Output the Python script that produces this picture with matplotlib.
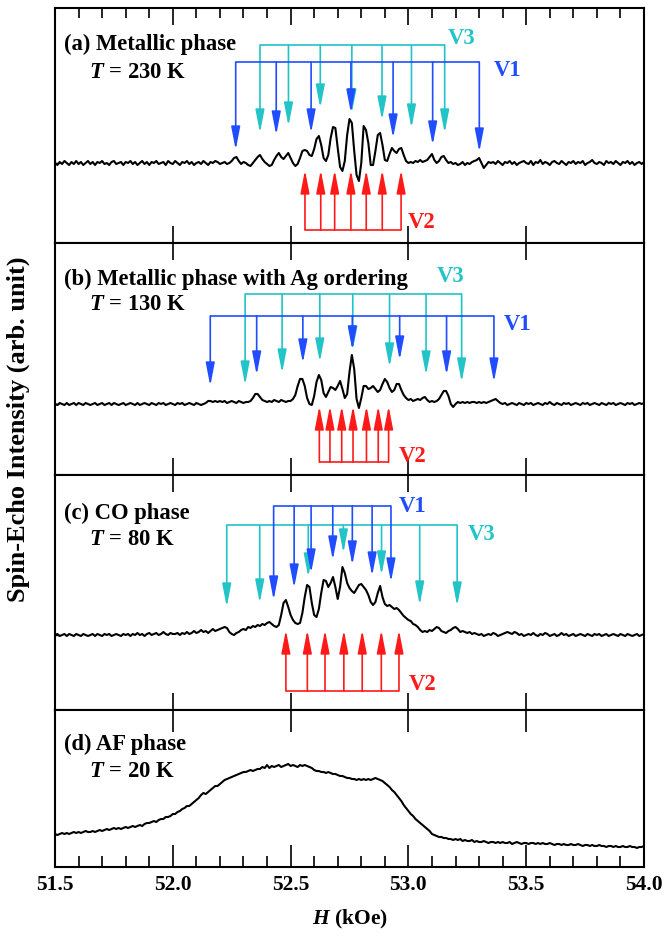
import numpy as np
import matplotlib
matplotlib.use("Agg")
import matplotlib.pyplot as plt
from matplotlib.ticker import MultipleLocator

plt.rcParams['font.family'] = 'Liberation Serif'
plt.rcParams['font.weight'] = 'bold'
plt.rcParams['axes.labelweight'] = 'bold'
plt.rcParams['mathtext.fontset'] = 'custom'
plt.rcParams['mathtext.it'] = 'Liberation Serif:italic:bold'
plt.rcParams['mathtext.rm'] = 'Liberation Serif:bold'

BLUE = '#1f4dff'
CYAN = '#22c4c8'
RED = '#ff1a1a'
FS = 16.3

# field grid (kOe), 0.01 step
H = np.round(np.arange(51.50, 54.001, 0.01), 2)

# (a) T = 230 K
int_a = [
    0, -2, 1, -1, 2, 0, -2, 1, -1, 2,
    -1, 1, -2, 0, 2, -1, 1, -2, 1, 0,
    2, -1, 0, -2, 1, 2, -1, 0, 1, -2,
    1, 0, 2, -1, 1, -2, 0, 2, -1, 1,
    -2, 1, 0, 2, -1, 0, 1, -2, 2, 0,
    -1, 2, 0, -2, 1, 0, 2, -1, 1, -2,
    0, 1, -1, 2, 0, -2, 1, 0, 2, 1,
    -1,
    0, 1, -1, 0, 2, 5, 6, 2, -1, 1,
    0, -2, -3, 0, 3, 6, 8, 4, 1, -1,
    -3, -2, 3, 7, 10, 6, 4, 7, 10, 5,
    0, -3, -1, 5, 12, 13, 12, 8, 7, 14,
    24, 27, 18, 5, 2, 8, 25, 36, 35, 15,
    -4, -8, 2, 28, 44, 40, 12, -12, -18, 0,
    37, 33, 20, -2, -2, 12, 28, 30, 18, 3,
    2, 9, 15, 12, 10, 14, 15, 8, 2, 0,
    1, 0, 2, 1, 3, 1, 2, 3, 6, 9,
    3, 0, 2, 6, 7, 3, 0, 1, -1, 0,
    -2, -1, 1, -2, 0, -1, 1, 2, 3, 5,
    0, -5, -2, 1, 0,
    1, -1, 2, 0,
    -2, 1, 0, 2, -1, 1, -2, 0, 1, 2,
    0, -1, 2, -2, 1, 0, 3, -1, 1, 0,
    -2, 1, 2, 0, -1, 2, 0, -2, 1, 0,
    2, -1, 1, 0, 2, -2, 0, 1, 3, 0,
    -1, 1, 0, -2, 2, 0, 1, -1, 2, 0,
    -2, 1, 0, 2, -1, 1, -2, 0, 1, -1,
    1,
]

# (b) T = 130 K
int_b = [
    0, -1, 1, 0, -1, 1, -1, 0, 1, -1,
    1, 0, -1, 1, 0, -1, 0, 1, -1, 0,
    1, -1, 0, 1, -1, 1, 0, -1, 0, 1,
    -1, 0, 1, 0, -1, 1, -1, 0, 1, 0,
    -1, 1, 0, -1, 1, 0, 1, -1, 0, 1,
    0, -1, 1, 0, 1, -1, 0, 1, 0, -1,
    1, 0, -1, 0,
    1, 3, 3, 2, 3, 2, 3, 2, 3, 1,
    2, 3, 2, 1, 3, 2, 1, 2, 2, 3,
    6, 10, 10, 7, 4, 3, 2, 3, 2, 4,
    3, 2, 4, 3, 2, 3, 3, 5, 9, 18,
    25, 25, 18, 6, 0, -1, 8, 22, 29, 24,
    11, 7, 12, 17, 16, 14, 18, 23, 15, 6,
    10, 32, 49, 35, 5, -4, 6, 18, 18, 15,
    16, 18, 15, 12, 14, 20, 25, 22, 16, 12,
    14, 20, 20, 14, 9, 6, 4, 5, 3, 4,
    5, 4, 6, 7, 4, 2, 3, 2, 3, 5,
    9, 13, 13, 8, 0, -3, 0, 2, 1, 2,
    1, 2, 1, 2, 2, 1, 2, 1, 2, 1,
    2, 3, 4, 5, 3, 1, 0,
    1, -1, 0, 1, 0, -1, 1, 0, -1, 1,
    0, 1, -1, 0, 1, 0, -1, 1, 0, 2,
    0, -1, 1, 0, -1, 1, 0, 1, -1, 0,
    1, 0, -1, 1, 0, 1, -1, 0, 1, 0,
    -1, 1, 0, -1, 1, 0, 1, -1, 0, 1,
    0, -1, 1, 0, 1, -1, 0, 1, 0, 1,
]

# (c) T = 80 K
int_c = [
    0, 1, -1, 0, 1, -1, 1, 0, -1, 1,
    0, -1, 1, 0, -1, 0, 1, -1, 1, 0,
    -1, 1, 0, 1, -1, 0, 1, 0, -1, 1,
    0, 1, -1, 1, 0, 2, 0, 1, -1, 1,
    2, 0, 1, 2, 0, 1, 3, 1, 0, 2,
    1,
    1, 2, 0, 2, 1, 3, 1, 2, 4, 2,
    3, 5, 3, 4, 2, 4, 6, 4, 5, 6,
    7, 8, 7, 3, 1, 0, 2, 3, 5, 6,
    5, 8, 7, 9, 8, 10, 9, 11, 10, 12,
    13, 11, 9, 8, 10, 20, 32, 35, 28, 20,
    15, 12, 11, 12, 22, 38, 50, 48, 32, 20,
    18, 26, 42, 55, 54, 48, 52, 58, 48, 36,
    48, 68, 62, 52, 47, 44, 42, 46, 50, 51,
    48, 45, 40, 33, 30, 33, 42, 49, 38, 31,
    29, 30, 28, 26, 27, 25, 22, 19, 17, 15,
    14, 11, 10, 8, 5, 3, 4, 3, 5, 4,
    6, 8, 7, 4, 3, 2, 4, 5, 7, 8,
    6, 3, 4, 3, 2, 3, 1, 2, 1, 0,
    1, -1, 0, 1, 0, 2, 1, -1, 0, 1,
    2, 3, 2, 1, 3, 2, 0, 1, -1, 0,
    1, 0, 2, 0, -1, 1, 0, 2, 1, -1,
    0, 1, -1, 0, 2, 0, 1, -1, 0, 1,
    -1, 0, 1, 0, -1, 1, 0, -1, 1, 0,
    1, -1, 0, 1, -1, 0, 1, 0, -1, 1,
    0, -1, 1, 0, -1, 0, 1, -1, 0, 1,
]

# (d) T = 20 K
int_d = [
    16, 15, 16, 17, 16, 17, 16, 17, 18, 17,
    18, 17, 18, 19, 18, 18, 19, 18, 19, 20,
    19, 20, 21, 20, 21, 22, 21, 22, 21, 22,
    23, 22, 23, 24, 23, 24, 25, 24, 26, 27,
    27, 28, 29, 28, 30, 31, 31, 33, 33, 34,
    36, 36, 38, 39, 41, 42, 44, 44, 46, 48,
    50, 52, 55, 57, 56, 58, 60, 62, 64, 64,
    66, 68, 70, 71, 72, 73, 74, 75, 76, 77,
    78, 78, 79, 80, 79, 80, 81, 81, 83, 82,
    85, 82, 84, 83, 84, 85, 83, 84, 85, 86,
    84, 85, 84, 83, 85, 84, 85, 84, 83, 82,
    80, 79, 79, 78, 78, 77, 78, 77, 76, 76,
    75, 74, 74, 73, 72, 72, 71, 71, 70, 71,
    70, 71, 70, 71, 70, 71, 72, 71, 70, 69,
    67, 65, 63, 60, 58, 55, 52, 49, 45, 42,
    39, 36, 34, 31, 29, 27, 25, 23, 21, 19,
    16, 15, 14, 13, 13, 12, 12, 11, 11, 10,
    11, 10, 11, 9, 10, 9, 9, 10, 8, 9,
    8, 8, 9, 8, 7, 8, 8, 7, 8, 7,
    8, 7, 7, 8, 6, 7, 8, 7, 6, 7,
    7, 6, 7, 7, 6, 7, 6, 7, 6, 6,
    7, 6, 5, 6, 6, 5, 6, 5, 5, 6,
    5, 5, 6, 5, 4, 5, 5, 4, 5, 4,
    4, 5, 4, 4, 3, 4, 4, 3, 4, 3,
    3, 4, 3, 3, 4, 3, 3, 2, 3, 3,
    4,
]

# line positions (kOe)
v1_a = [52.267, 52.439, 52.587, 52.756, 52.935, 53.103, 53.301]
v3_a = [52.370, 52.491, 52.626, 52.760, 52.888, 53.013, 53.154]
v2_a = [52.561, 52.628, 52.687, 52.756, 52.821, 52.889, 52.969]

v1_b = [52.159, 52.356, 52.552, 52.762, 52.963, 53.162, 53.363]
v3_b = [52.307, 52.464, 52.624, 52.764, 52.920, 53.075, 53.226]
v2_b = [52.622, 52.667, 52.717, 52.765, 52.822, 52.872, 52.916]

v1_c = [52.428, 52.515, 52.587, 52.679, 52.762, 52.846, 52.926]
v3_c = [52.229, 52.369, 52.575, 52.724, 52.886, 53.048, 53.207]
v2_c = [52.480, 52.571, 52.646, 52.726, 52.804, 52.885, 52.960]

panel_titles = ['(a) Metallic phase', '(b) Metallic phase with Ag ordering',
                '(c) CO phase', '(d) AF phase']
temps = [r'$T$ = 230 K', r'$T$ = 130 K', r'$T$ = 80 K', r'$T$ = 20 K']


def draw_family(ax, hs, bar, tips, color):
    ax.plot([hs[0], hs[-1]], [bar, bar], color=color, lw=1.2,
            solid_capstyle='butt', zorder=2)
    for h, t in zip(hs, tips):
        ax.annotate('', xy=(h, t), xytext=(h, bar),
                    arrowprops=dict(arrowstyle='-|>,head_length=1.4,head_width=0.27',
                                    color=color, lw=1.2, shrinkA=0, shrinkB=0,
                                    mutation_scale=10), zorder=2)


fig = plt.figure(figsize=(6.64, 9.43), dpi=100)
W, Hh = 664.0, 943.0
left, right = 55, 644
# (top px, bottom px, baseline px) for each panel
rows = [(8, 243, 163), (243, 475, 404), (475, 710, 635), (710, 867, 850)]
axes = []
for top, bot, base in rows:
    ax = fig.add_axes([left / W, 1 - bot / Hh, (right - left) / W, (bot - top) / Hh])
    ax.set_ylim(-(bot - base), base - top)
    axes.append(ax)

for i, (ax, y) in enumerate(zip(axes, [int_a, int_b, int_c, int_d])):
    ax.plot(H, y, color='black', lw=1.5, zorder=3)
    ax.set_xlim(51.5, 54.0)
    ax.xaxis.set_major_locator(MultipleLocator(0.5))
    ax.tick_params(axis='x', which='major', direction='in', length=12, width=1.2,
                   top=True, bottom=True, labelbottom=False)
    if i < 3:
        ax.set_yticks([0])
        ax.tick_params(axis='y', direction='in', length=3, width=1.0, labelleft=False)
    else:
        ax.set_yticks([])
    for s in ax.spines.values():
        s.set_linewidth(1.5)

axes[0].xaxis.set_minor_locator(MultipleLocator(0.1))
axes[0].tick_params(axis='x', which='minor', direction='in', length=7, width=1.2,
                    top=True, bottom=False)
axes[3].xaxis.set_minor_locator(MultipleLocator(0.1))
axes[3].tick_params(axis='x', which='minor', direction='in', length=8, width=1.2,
                    top=False, bottom=True)
axes[3].tick_params(axis='x', which='major', length=16, labelbottom=True,
                    labelsize=15.5, pad=6)
axes[3].set_xticks([51.5, 52.0, 52.5, 53.0, 53.5, 54.0])
axes[3].set_xticklabels(['51.5', '52.0', '52.5', '53.0', '53.5', '54.0'])
axes[3].set_xlabel(r'$H$ (kOe)', fontsize=15.5, fontweight='bold', labelpad=9)

title_y = [(0.843, 0.727), (0.845, 0.737), (0.835, 0.727), (0.783, 0.611)]
for ax, t, tt, (y1, y2) in zip(axes, panel_titles, temps, title_y):
    ax.text(0.015, y1, t, transform=ax.transAxes, fontsize=FS, va='center', ha='left')
    ax.text(0.058, y2, tt, transform=ax.transAxes, fontsize=FS, va='center', ha='left')

# (a)
ax = axes[0]
draw_family(ax, v3_a, 118, [30, 37, 55, 50, 43, 35, 30], CYAN)
draw_family(ax, v1_a, 101, [13, 28, 30, 50, 25, 18, 11], BLUE)
draw_family(ax, v2_a, -67, [-7] * 7, RED)
ax.text(53.166, 124, 'V3', color=CYAN, fontsize=FS, va='center')
ax.text(53.362, 92, 'V1', color=BLUE, fontsize=FS, va='center')
ax.text(52.996, -59, 'V2', color=RED, fontsize=FS, va='center')

# (b)
ax = axes[1]
draw_family(ax, v3_b, 110, [19, 31, 42, 54, 37, 29, 22], CYAN)
draw_family(ax, v1_b, 88, [18, 29, 41, 54, 44, 29, 22], BLUE)
draw_family(ax, v2_b, -58, [-2] * 7, RED)
ax.text(53.119, 127, 'V3', color=CYAN, fontsize=FS, va='center')
ax.text(53.405, 80, 'V1', color=BLUE, fontsize=FS, va='center')
ax.text(52.957, -53, 'V2', color=RED, fontsize=FS, va='center')

# (c)
ax = axes[2]
draw_family(ax, v3_c, 110, [28, 32, 58, 82, 60, 30, 29], CYAN)
draw_family(ax, v1_c, 129, [35, 47, 62, 75, 70, 59, 53], BLUE)
draw_family(ax, v2_c, -56, [5] * 7, RED)
ax.text(52.957, 129, 'V1', color=BLUE, fontsize=FS, va='center')
ax.text(53.251, 100, 'V3', color=CYAN, fontsize=FS, va='center')
ax.text(53.0, -49, 'V2', color=RED, fontsize=FS, va='center')

fig.text(0.027, 0.545, 'Spin-Echo Intensity (arb. unit)', rotation=90,
         fontsize=19, va='center', ha='center')

fig.savefig('out.png', dpi=100)
